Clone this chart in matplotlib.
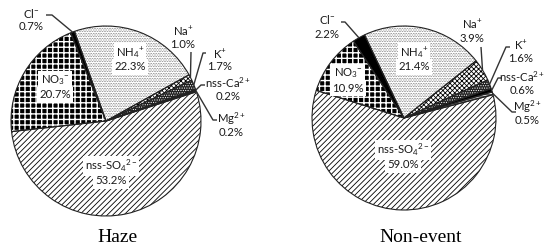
import matplotlib
matplotlib.use('Agg')
import matplotlib.pyplot as plt
import numpy as np

plt.rcParams['font.family'] = ['Lato', 'DejaVu Sans']
plt.rcParams['mathtext.fontset'] = 'custom'
plt.rcParams['mathtext.rm'] = 'Lato'
plt.rcParams['mathtext.it'] = 'Lato:italic'
plt.rcParams['mathtext.bf'] = 'Lato:bold'
plt.rcParams['hatch.linewidth'] = 0.6

# ---- data ----
ions = ['nss-SO$_4$$^{2-}$', 'Mg$^{2+}$', 'nss-Ca$^{2+}$', 'K$^{+}$',
        'Na$^{+}$', 'NH$_4$$^{+}$', 'Cl$^{-}$', 'NO$_3$$^{-}$']
haze = [53.2, 0.2, 0.2, 1.7, 1.0, 22.3, 0.7, 20.7]
nonevent = [59.0, 0.5, 0.6, 1.6, 3.9, 21.4, 2.2, 10.9]
titles = ['Haze', 'Non-event']

# ---- styles (face, hatch, hatch colour, hatch lw) ----
styles = [
    ('white', '//////', 'black', 0.6),        # SO4
    ('white', '--------', 'black', 0.6),      # Mg
    ('black', '', 'black', 0.6),              # Ca
    ('#202020', '.......', 'white', 0.5),     # K
    ('white', 'xxxxxxx', 'black', 0.6),       # Na
    ('white', '..........', '#444444', 0.3),  # NH4
    ('black', '', 'black', 0.6),              # Cl
    ('black', '+++', 'white', 1.0),           # NO3
]
inside = [0, 5, 7]

H = 248
def py(y):
    return H - y

fig = plt.figure(figsize=(5.48, 2.48), dpi=100)
ax = fig.add_axes([0, 0, 1, 1])

layouts = [
    dict(center=(106, 121), r=95, start=186.4, title=(117.5, 238),
         text={0: (111, 166, 181), 5: (130, 53, 67), 7: (55, 80, 95),
               6: (31, 13, 27), 4: (183, 31, 45), 3: (220, 54, 66),
               2: (228, 83, 97), 1: (231, 119, 133)},
         lead={6: ((52, 15), (46, 15)), 4: ((191, 52), (191, 52)),
               3: ((203, 53), (206, 53)), 2: ((201, 85), (205, 85)),
               1: ((213, 120), (217, 120))}),
    dict(center=(404, 118), r=92, start=162.5, title=(421, 238),
         text={0: (403, 150, 165), 5: (414, 53, 67), 7: (348, 73, 88),
               6: (327, 20, 34), 4: (472, 24, 38), 3: (521, 45, 58),
               2: (522, 77, 91), 1: (527, 107, 121)},
         lead={6: ((345, 22), (341, 22)), 4: ((481, 47), (481, 47)),
               3: ((506, 47), (510, 47)), 2: ((498, 78), (502, 78)),
               1: ((512, 112), (516, 112))}),
]

for vals, lay, title in zip([haze, nonevent], layouts, titles):
    cx, cy = lay['center']
    c = (cx, py(cy))
    r = lay['r']
    wedges, _ = ax.pie(vals, center=c, radius=r, startangle=lay['start'],
                       counterclock=True, wedgeprops=dict(linewidth=0))
    for w, (fc, hh, hc, hlw) in zip(wedges, styles):
        w.set_facecolor(fc)
        w.set_edgecolor(hc)
        w.set_hatch(hh if hh else None)
        if hasattr(w, 'set_hatch_linewidth'):
            w.set_hatch_linewidth(hlw)
    ax.pie(vals, center=c, radius=r, startangle=lay['start'], counterclock=True,
           wedgeprops=dict(fill=False, edgecolor='#222222', linewidth=0.8))
    for i, w in enumerate(wedges):
        tx, ty1, ty2 = lay['text'][i]
        kw = dict(ha='center', va='center', fontsize=8.2, color='#1a1a1a')
        if i in inside:
            kw['bbox'] = dict(fc='white', ec='none', pad=1.5)
        ax.text(tx, py(ty1), ions[i], **kw)
        ax.text(tx, py(ty2), f'{vals[i]:.1f}%', **kw)
        if i in lay['lead']:
            mid = np.deg2rad((w.theta1 + w.theta2) / 2)
            ex, ey = c[0] + r * np.cos(mid), c[1] + r * np.sin(mid)
            (elx, ely), (sx, sy) = lay['lead'][i]
            ax.plot([ex, elx, sx], [ey, py(ely), py(sy)], color='#333333',
                    lw=1.0, solid_capstyle='butt')
    ax.text(lay['title'][0], py(lay['title'][1]), title, ha='center', va='center',
            fontsize=14, family='Liberation Serif', color='black')

ax.set_xlim(0, 548)
ax.set_ylim(0, 248)
ax.set_aspect('auto')
ax.axis('off')
fig.savefig('out.png', dpi=100)
